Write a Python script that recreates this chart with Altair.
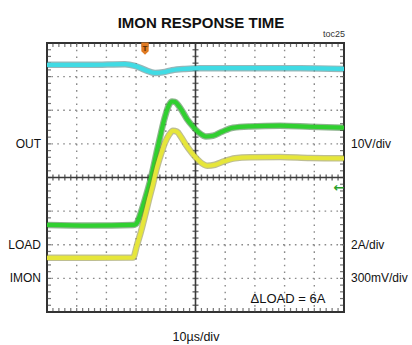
import altair as alt
import pandas as pd
import numpy as np

# ---------------- data (time in µs, level in screen divisions from bottom) ----------------
cyan_t = [0, 14.5, 26.3, 29.6, 33.0, 36.4, 39.1, 42.1, 46.5, 51.5, 68.4, 85.2, 100]
cyan_v = [7.35, 7.35, 7.37, 7.32, 7.20, 7.11, 7.13, 7.19, 7.23, 7.25, 7.25, 7.25, 7.23]

green_t = [0, 14.5, 29.0, 30.0, 31.0, 32.0, 33.0, 34.0, 35.0, 36.0, 37.0, 38.1, 39.1, 40.1,
           41.1, 42.1, 43.1, 44.1, 45.5, 47.1, 49.2, 51.2, 53.5, 55.9, 58.9, 62.6, 68.4,
           78.5, 88.6, 100]
green_v = [2.59, 2.57, 2.59, 2.62, 2.80, 3.07, 3.36, 3.66, 3.99, 4.38, 4.79, 5.21, 5.60, 5.92,
           6.16, 6.26, 6.25, 6.16, 5.98, 5.74, 5.51, 5.33, 5.22, 5.24, 5.36, 5.48, 5.52,
           5.54, 5.51, 5.48]

yellow_t = [0, 14.5, 29.0, 30.3, 31.7, 33.0, 34.3, 35.7, 37.0, 38.4, 39.7, 41.1, 42.4, 43.8,
            45.1, 46.8, 48.8, 51.2, 53.9, 56.6, 59.6, 63.3, 68.4, 78.5, 88.6, 100]
yellow_v = [1.61, 1.61, 1.62, 1.99, 2.41, 2.86, 3.33, 3.81, 4.29, 4.70, 5.03, 5.27, 5.39, 5.36,
            5.21, 4.97, 4.73, 4.49, 4.35, 4.38, 4.48, 4.57, 4.60, 4.61, 4.58, 4.57]

left_labels = ["OUT", "LOAD", "IMON"]
right_labels = ["10V/div", "2A/div", "300mV/div"]
label_levels = [5, 2, 1]

title_text = ["IMON RESPONSE TIME"]
x_label = ["10µs/div"]
note_text = ["ΔLOAD = 6A"]
fig_id = ["toc25"]

trigger_t = [33.0]
trigger_v = [7.83]
ground_t = [98.3]
ground_v = [3.69]

# ---------------- scales ----------------
xs = alt.Scale(domain=[0, 100], nice=False, zero=False)
ys = alt.Scale(domain=[0, 8], nice=False, zero=False)


def X(f="t"):
    return alt.X(f"{f}:Q", scale=xs, axis=None)


def Y(f="v"):
    return alt.Y(f"{f}:Q", scale=ys, axis=None)


FONT = "Liberation Sans"

layers = []

# dotted graticule
grid_h = pd.DataFrame({"v": [1, 2, 3, 5, 6, 7]})
grid_v = pd.DataFrame({"t": [10, 20, 30, 40, 60, 70, 80, 90]})
layers.append(alt.Chart(grid_h).mark_rule(color="#8a8a8a", strokeWidth=1.4,
                                           strokeDash=[1.6, 4.34]).encode(y=Y()))
layers.append(alt.Chart(grid_v).mark_rule(color="#8a8a8a", strokeWidth=1.4,
                                           strokeDash=[1.6, 5.12]).encode(x=X()))

# centre axes
layers.append(alt.Chart(pd.DataFrame({"v": [4]})).mark_rule(color="#3a3a3a", strokeWidth=1.6).encode(y=Y()))
layers.append(alt.Chart(pd.DataFrame({"t": [50]})).mark_rule(color="#3a3a3a", strokeWidth=1.6).encode(x=X()))

minor_t = np.round(np.arange(2, 100, 2), 3)
minor_v = np.round(np.arange(0.2, 8, 0.2), 3)

cx = pd.DataFrame({"t": minor_t, "v": 4.0})
cy = pd.DataFrame({"t": 50.0, "v": minor_v})
layers.append(alt.Chart(cx).mark_tick(orient="vertical", size=6, thickness=1.5, color="#3a3a3a")
              .encode(x=X(), y=Y()))
layers.append(alt.Chart(cy).mark_tick(orient="horizontal", size=6, thickness=1.5, color="#3a3a3a")
              .encode(x=X(), y=Y()))

# border ticks (pointing inward)
top = pd.DataFrame({"t": minor_t, "v": 8.0})
bot = pd.DataFrame({"t": minor_t, "v": 0.0})
lef = pd.DataFrame({"t": 0.0, "v": minor_v})
rig = pd.DataFrame({"t": 100.0, "v": minor_v})
layers.append(alt.Chart(top).mark_tick(orient="vertical", size=4, thickness=1.2, color="#3a3a3a", yOffset=2)
              .encode(x=X(), y=Y()))
layers.append(alt.Chart(bot).mark_tick(orient="vertical", size=4, thickness=1.2, color="#3a3a3a", yOffset=-2)
              .encode(x=X(), y=Y()))
layers.append(alt.Chart(lef).mark_tick(orient="horizontal", size=4, thickness=1.2, color="#3a3a3a", xOffset=2)
              .encode(x=X(), y=Y()))
layers.append(alt.Chart(rig).mark_tick(orient="horizontal", size=4, thickness=1.2, color="#3a3a3a", xOffset=-2)
              .encode(x=X(), y=Y()))

# traces
traces = [
    (cyan_t, cyan_v, "#2f6f74", "#40dbe4"),
    (green_t, green_v, "#1f6a1f", "#30d030"),
    (yellow_t, yellow_v, "#7e7e26", "#e6e63a"),
]
for tt, vv, dark, light in traces:
    df = pd.DataFrame({"t": tt, "v": vv})
    base = alt.Chart(df).encode(x=X(), y=Y())
    layers.append(base.mark_line(color=dark, strokeWidth=6.5, opacity=0.5, interpolate="monotone"))
    layers.append(base.mark_line(color=light, strokeWidth=4.2, interpolate="monotone"))

# trigger marker
trig = pd.DataFrame({"t": trigger_t, "v": trigger_v, "s": ["T"]})
layers.append(alt.Chart(trig).mark_point(
    shape="M-0.6,-1 L0.6,-1 L0.6,0.4 L0,1 L-0.6,0.4 Z", size=150, filled=True,
    color="#e07a22", opacity=1).encode(x=X(), y=Y()))
layers.append(alt.Chart(trig).mark_text(fontSize=8, fontWeight="bold", color="#5a2a00", font=FONT)
              .encode(x=X(), y=Y(), text="s:N"))

# ground marker
gnd = pd.DataFrame({"t": ground_t, "v": ground_v, "s": ["←"]})
layers.append(alt.Chart(gnd).mark_text(fontSize=13, fontWeight="bold", color="#2aa02a", font="DejaVu Sans")
              .encode(x=X(), y=Y(), text="s:N"))

# side labels
lab = pd.DataFrame({"l": left_labels, "r": right_labels, "v": label_levels})
layers.append(alt.Chart(lab).mark_text(align="right", baseline="middle", fontSize=12, font=FONT, color="#111")
              .encode(x=alt.value(-6), y=Y(), text="l:N"))
layers.append(alt.Chart(lab).mark_text(align="left", baseline="middle", fontSize=12, font=FONT, color="#111")
              .encode(x=alt.value(304), y=Y(), text="r:N"))

# title, id, x label, note
layers.append(alt.Chart(pd.DataFrame({"s": title_text})).mark_text(
    fontSize=15, fontWeight="bold", font=FONT, color="#111", baseline="middle")
    .encode(x=alt.value(154), y=alt.value(-20), text="s:N"))
layers.append(alt.Chart(pd.DataFrame({"s": fig_id})).mark_text(
    fontSize=9, font=FONT, color="#333", align="right", baseline="middle")
    .encode(x=alt.value(298), y=alt.value(-9), text="s:N"))
layers.append(alt.Chart(pd.DataFrame({"s": x_label})).mark_text(
    fontSize=12.5, font=FONT, color="#111", baseline="middle")
    .encode(x=alt.value(149), y=alt.value(294), text="s:N"))
layers.append(alt.Chart(pd.DataFrame({"s": note_text})).mark_text(
    fontSize=13, font=FONT, color="#111", baseline="middle")
    .encode(x=alt.value(241), y=alt.value(256), text="s:N"))

chart = alt.layer(*layers).properties(
    width=297, height=269,
    autosize=alt.AutoSizeParams(type="none"),
    padding={"left": 47, "top": 43, "right": 68, "bottom": 33},
    background="white",
).configure_view(stroke="#333333", strokeWidth=2)

chart.save("out.html", embed_options={"renderer": "svg", "actions": False})
